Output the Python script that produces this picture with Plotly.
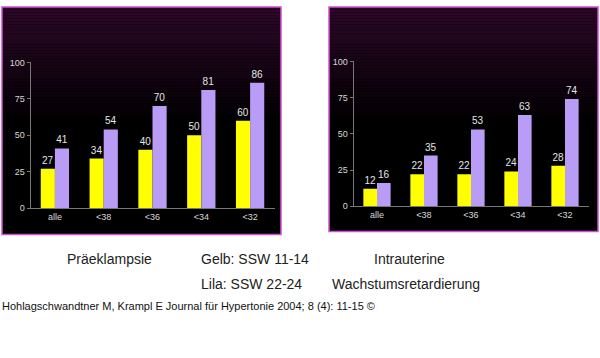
import plotly.graph_objects as go

W, H = 600, 358

categories = ["alle", "<38", "<36", "<34", "<32"]
pre_gelb = [27, 34, 40, 50, 60]
pre_lila = [41, 54, 70, 81, 86]
iugr_gelb = [12, 22, 22, 24, 28]
iugr_lila = [16, 35, 53, 63, 74]
y_ticks = [0, 25, 50, 75, 100]

YELLOW = "#ffff00"
LILAC = "#b89cf6"
LABEL = "#e6e6e6"

def px(x):
    return x / W

def py(y):
    return 1 - y / H

fig = go.Figure()

def add_pair(g, l, xa, ya):
    for vals, col in ((g, YELLOW), (l, LILAC)):
        fig.add_trace(go.Bar(
            x=categories, y=vals, marker=dict(color=col, line=dict(width=0)),
            text=[str(v) for v in vals], textposition="outside",
            textfont=dict(color=LABEL, size=10, family="Liberation Sans"),
            cliponaxis=False, xaxis=xa, yaxis=ya, showlegend=False,
        ))

add_pair(pre_gelb, pre_lila, "x", "y")
add_pair(iugr_gelb, iugr_lila, "x2", "y2")

# panel backgrounds with vertical gradient
shapes = []
panels = [(2, 281, 2, 236), (329, 598, 2, 233)]
top = (44, 8, 40)
n = 40
for (x0, x1, y0, y1) in panels:
    shapes.append(dict(type="rect", xref="paper", yref="paper",
                       x0=px(x0), x1=px(x1), y0=py(y1), y1=py(y0),
                       fillcolor="#000000", line=dict(width=0), layer="below"))
    grad_h = 120
    for i in range(n):
        t = i / n
        c = tuple(int(v * (1 - t)) for v in top)
        ya = y0 + grad_h * i / n
        yb = y0 + grad_h * (i + 1) / n
        shapes.append(dict(type="rect", xref="paper", yref="paper",
                           x0=px(x0), x1=px(x1), y0=py(yb), y1=py(ya),
                           fillcolor="rgb(%d,%d,%d)" % c, line=dict(width=0),
                           layer="below"))
    shapes.append(dict(type="rect", xref="paper", yref="paper",
                       x0=px(x0), x1=px(x1), y0=py(y1), y1=py(y0),
                       fillcolor="rgba(0,0,0,0)",
                       line=dict(color="#d24fd2", width=1.5), layer="above"))

tick_font = dict(color="#d8d8d8", size=9, family="Liberation Sans")
xax = dict(showgrid=False, zeroline=False, showline=True, linecolor="#777777",
           linewidth=1, ticks="", tickfont=tick_font, fixedrange=True)
yax = dict(range=[0, 100], tickvals=y_ticks, showgrid=False, zeroline=False,
           showline=True, linecolor="#777777", linewidth=1, ticks="outside",
           ticklen=3, tickcolor="#777777", tickfont=tick_font, fixedrange=True)

fig.update_layout(
    width=W, height=H, margin=dict(l=0, r=0, t=0, b=0),
    paper_bgcolor="white", plot_bgcolor="rgba(0,0,0,0)",
    barmode="group", bargap=0.42, bargroupgap=0,
    shapes=shapes,
    xaxis=dict(xax, domain=[px(30.5), px(274.5)], anchor="y"),
    yaxis=dict(yax, domain=[py(209), py(59)], anchor="x"),
    xaxis2=dict(xax, domain=[px(353.5), px(588.5)], anchor="y2"),
    yaxis2=dict(yax, domain=[py(207), py(58)], anchor="x2"),
)

txt = dict(color="#222222", size=14, family="Liberation Sans")
notes = [
    ("Präeklampsie", 109, 261, "center"),
    ("Gelb: SSW 11-14", 199, 261, "left"),
    ("Lila: SSW 22-24", 199, 287, "left"),
    ("Intrauterine", 409, 261, "center"),
    ("Wachstumsretardierung", 406, 287, "center"),
]
for t, x, y, anc in notes:
    fig.add_annotation(text=t, xref="paper", yref="paper", x=px(x), y=py(y),
                       xanchor=anc, yanchor="middle", showarrow=False, font=txt)

fig.add_annotation(text="Hohlagschwandtner M, Krampl E Journal für Hypertonie 2004; 8 (4): 11-15 ©",
                   xref="paper", yref="paper", x=0, y=py(310), xanchor="left",
                   yanchor="middle", showarrow=False,
                   font=dict(color="#111111", size=11, family="Liberation Sans"))

fig.write_html("out.html",
               config={"displayModeBar": False, "staticPlot": True},
               post_script="document.body.style.margin='0';document.body.style.padding='0';")
